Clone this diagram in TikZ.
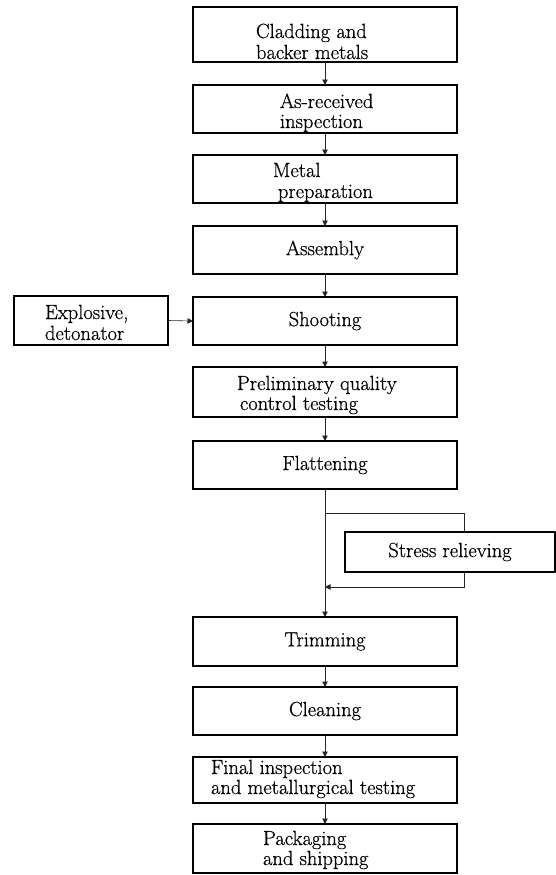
\documentclass[tikz,border=0pt]{standalone}
\usepackage{fontspec}
\newfontfamily\heavy[FakeBold=0.6]{Latin Modern Roman}
\usetikzlibrary{arrows.meta,calc}
\begin{document}
\begin{tikzpicture}[x=1pt,y=-1pt,
  box/.style={draw=black,line width=1.4pt,inner sep=0pt,outer sep=0pt,
    font=\heavy\fontsize{20.5}{21}\selectfont},
  txt/.style={inner sep=0pt,outer sep=0pt,anchor=base west,
    font=\heavy\fontsize{20.5}{21}\selectfont},
  conn/.style={draw=black!85,line width=0.6pt},
  arr/.style={conn,-{Triangle[length=5.5pt,width=5.5pt]}}]
\useasboundingbox (0,0) rectangle (556,875);
% main column boxes
\node[box,minimum width=264,minimum height=55] (b1) at (325,34.5) {};
\node[box,minimum width=264,minimum height=48] (b2) at (325,109) {};
\node[box,minimum width=264,minimum height=48] (b3) at (325,179) {};
\node[box,minimum width=264,minimum height=48] (b4) at (325,250) {Assembly};
\node[box,minimum width=264,minimum height=48] (b5) at (325,321) {Shooting};
\node[box,minimum width=264,minimum height=50] (b6) at (325,392) {};
\node[box,minimum width=264,minimum height=48] (b7) at (325,465) {Flattening};
\node[box,minimum width=264,minimum height=49] (b8) at (325,641.5) {Trimming};
\node[box,minimum width=264,minimum height=48] (b9) at (325,711) {Cleaning};
\node[box,minimum width=264,minimum height=46] (b10) at (325,780) {};
\node[box,minimum width=264,minimum height=49] (b11) at (325,848.5) {};
% side boxes
\node[box,minimum width=154,minimum height=49] (ex) at (91,320.5) {};
\node[box,minimum width=210,minimum height=40] (sr) at (450,552) {Stress relieving};
% multi-line texts
\node[txt] (t1a) at (256,38) {Cladding and};
\node[txt] (t1b) at (256,59) {backer metals};
\node[txt] (t2a) at (280,108) {As-received};
\node[txt] (t2b) at (280,128) {inspection};
\node[txt] (t3a) at (273,177) {Metal};
\node[txt] (t3b) at (278,198) {preparation};
\node[txt] (t6a) at (237,390) {Preliminary quality};
\node[txt] (t6b) at (240,410) {control testing};
\node[txt] (t10a) at (211,774) {Final inspection};
\node[txt] (t10b) at (211,794) {and metallurgical testing};
\node[txt] (t11a) at (263,845) {Packaging};
\node[txt] (t11b) at (263,865) {and shipping};
\node[txt] (exa) at (45,319) {Explosive,};
\node[txt] (exb) at (45,340) {detonator};
% connectors
\draw[arr] (b1.south) -- (b2.north);
\draw[arr] (b2.south) -- (b3.north);
\draw[arr] (b3.south) -- (b4.north);
\draw[arr] (b4.south) -- (b5.north);
\draw[arr] (ex.east) -- (b5.west);
\draw[arr] (b5.south) -- (b6.north);
\draw[arr] (b6.south) -- (b7.north);
\draw[arr] (b7.south) -- (b8.north);
\coordinate (j1) at (325,513);
\coordinate (j2) at (325,587);
\draw[conn] (j1) -| ([xshift=14pt]sr.north);
\draw[arr] ([xshift=14pt]sr.south) |- (j2);
\draw[arr] (b8.south) -- (b9.north);
\draw[arr] (b9.south) -- (b10.north);
\draw[arr] (b10.south) -- (b11.north);
\end{tikzpicture}
\end{document}
